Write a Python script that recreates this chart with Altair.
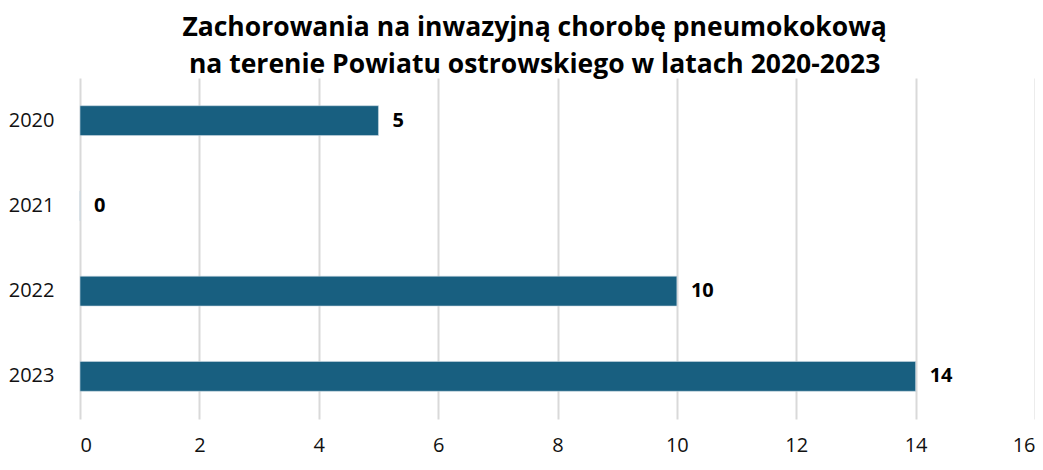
import altair as alt
import pandas as pd

years = ["2020", "2021", "2022", "2023"]
cases = [5, 0, 10, 14]
x_ticks = [0, 2, 4, 6, 8, 10, 12, 14, 16]

df = pd.DataFrame({"year": years, "cases": cases})

FONT = "Open Sans"

base = alt.Chart(df).encode(
    y=alt.Y("year:N", sort=years, title=None,
            scale=alt.Scale(paddingInner=0.65, paddingOuter=0.325),
            axis=alt.Axis(labelFontSize=20, labelColor="#111111", labelFont=FONT,
                          labelPadding=26, ticks=False, domain=False, grid=False)),
)

bars = base.mark_bar(color="#185f80", stroke="#c9d9e3", strokeWidth=0.6).encode(
    x=alt.X("cases:Q", title=None,
            scale=alt.Scale(domain=[0, 16], nice=False),
            axis=alt.Axis(values=x_ticks, format="d", labelFontSize=20,
                          labelColor="#111111", labelFont=FONT, labelPadding=16,
                          ticks=False, domain=False, grid=True,
                          gridColor="#d9d9d9", gridWidth=2)),
)

labels = base.mark_text(align="left", baseline="middle", dx=14, fontSize=20,
                        fontWeight="bold", font=FONT, color="#000000").encode(
    x=alt.X("cases:Q"),
    text=alt.Text("cases:Q"),
)

chart = (bars + labels).properties(
    width=1027,
    height=450,
    autosize=alt.AutoSizeParams(type="fit", contains="padding"),
    padding={"left": 0, "top": 6, "right": 0, "bottom": 3},
    title=alt.TitleParams(
        text=["Zachorowania na inwazyjną chorobę pneumokokową",
              "na terenie Powiatu ostrowskiego w latach 2020-2023"],
        fontSize=26.5, fontWeight="bold", font=FONT, color="#000000",
        anchor="middle", frame="bounds", lineHeight=37, offset=0, dx=13,
    ),
).configure_view(stroke=None)

chart.save("out.html", embed_options={"renderer": "svg", "actions": False})
